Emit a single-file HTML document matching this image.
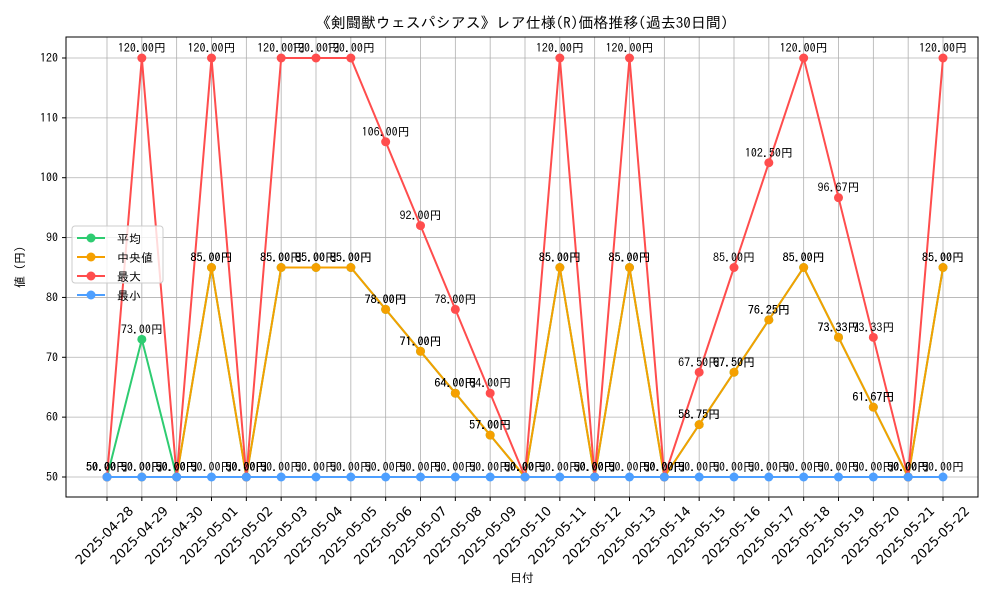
<!DOCTYPE html>
<html><head><meta charset="utf-8">
<style>
body{margin:0;background:#fff;}
svg{display:block;font-family:"IPAGothic","Noto Sans CJK JP",sans-serif;}
</style></head>
<body>
<svg id="chart" width="1000" height="600" xmlns="http://www.w3.org/2000/svg">
<rect width="1000" height="600" fill="#fff"/>
<text x="522" y="28" font-size="15" text-anchor="middle">《剣闘獣ウェスパシアス》レア仕様(R)価格推移(過去30日間)</text>
<g id="grid"></g>
<rect x="66" y="37" width="912" height="460" fill="none" stroke="#000" stroke-width="1"/>
<g id="series"></g>
<g id="labels"></g>
<text x="522" y="582" font-size="12" text-anchor="middle">日付</text>
<text transform="translate(24,267) rotate(-90)" font-size="12" text-anchor="middle">値 (円)</text>
<g id="legend">
<rect x="72" y="226" width="91" height="57" rx="3" fill="#fff" fill-opacity="0.8" stroke="#ccc"/>
</g>
</svg>
<script>
const dates=["2025-04-28","2025-04-29","2025-04-30","2025-05-01","2025-05-02","2025-05-03","2025-05-04","2025-05-05","2025-05-06","2025-05-07","2025-05-08","2025-05-09","2025-05-10","2025-05-11","2025-05-12","2025-05-13","2025-05-14","2025-05-15","2025-05-16","2025-05-17","2025-05-18","2025-05-19","2025-05-20","2025-05-21","2025-05-22"];
const meanVals=[50,73,50,85,50,85,85,85,78,71,64,57,50,85,50,85,50,58.75,67.5,76.25,85,73.33,61.67,50,85];
const medianVals=[50,50,50,85,50,85,85,85,78,71,64,57,50,85,50,85,50,58.75,67.5,76.25,85,73.33,61.67,50,85];
const maxVals=[50,120,50,120,50,120,120,120,106,92,78,64,50,120,50,120,50,67.5,85,102.5,120,96.67,73.33,50,120];
const minVals=[50,50,50,50,50,50,50,50,50,50,50,50,50,50,50,50,50,50,50,50,50,50,50,50,50];
const yTicks=[50,60,70,80,90,100,110,120];
const seriesNames=["平均","中央値","最大","最小"];
const NS="http://www.w3.org/2000/svg";
const X=i=>107+i*(943-107)/(dates.length-1);
const Y=v=>477-(v-50)*(477-58)/70;
function mk(tag,attrs,parent){const e=document.createElementNS(NS,tag);for(const k in attrs)e.setAttribute(k,attrs[k]);parent.appendChild(e);return e;}
const grid=document.getElementById('grid');
yTicks.forEach(t=>{
 const l=mk('line',{x1:66,x2:978,y1:Y(t),y2:Y(t),stroke:'#b0b0b0','stroke-width':0.8},grid);
 
 
 mk('line',{x1:62,x2:66,y1:Y(t),y2:Y(t),stroke:'#000'},grid);
 const tx=mk('text',{x:58,y:Y(t)+4,'font-size':12,'text-anchor':'end'},grid);tx.textContent=t;
 
 
});
dates.forEach((d,i)=>{
 const l=mk('line',{x1:X(i),x2:X(i),y1:37,y2:497,stroke:'#b0b0b0','stroke-width':0.8},grid);
 
 
 mk('line',{x1:X(i),x2:X(i),y1:497,y2:501,stroke:'#000'},grid);
 const tx=mk('text',{transform:`translate(${X(i)-2},${536}) rotate(-45)`,'font-size':13,'text-anchor':'middle','dominant-baseline':'central','font-family':'"DejaVu Sans",sans-serif'},grid);tx.textContent=d;
 
 
});
const all=[[meanVals,'#2ecc71','mean'],[medianVals,'#f5a000','median'],[maxVals,'#ff4d4d','max'],[minVals,'#4d9fff','min']];
const sg=document.getElementById('series'),lg=document.getElementById('labels');
all.forEach(([vals,col,nm])=>{
 const p=mk('polyline',{points:vals.map((v,i)=>X(i)+','+Y(v)).join(' '),fill:'none',stroke:col,'stroke-width':2},sg);
 
 
 vals.forEach((v,i)=>{
  const c=mk('circle',{cx:X(i),cy:Y(v),r:4.5,fill:col},sg);
  
  
  const t=mk('text',{x:X(i),y:Y(v)-6,'font-size':12,'text-anchor':'middle'},lg);
  t.textContent=v.toFixed(2)+'円';
  
  
 });
});
const leg=document.getElementById('legend');
all.forEach(([v,col,nm],k)=>{
 const y=238+k*19;
 mk('line',{x1:77,x2:105,y1:y,y2:y,stroke:col,'stroke-width':2},leg);
 const c=mk('circle',{cx:91,cy:y,r:4.5,fill:col},leg);
 
 
 const t=mk('text',{x:117,y:y+5,'font-size':12},leg);t.textContent=seriesNames[k];
 
 
});
</script>
</body></html>
